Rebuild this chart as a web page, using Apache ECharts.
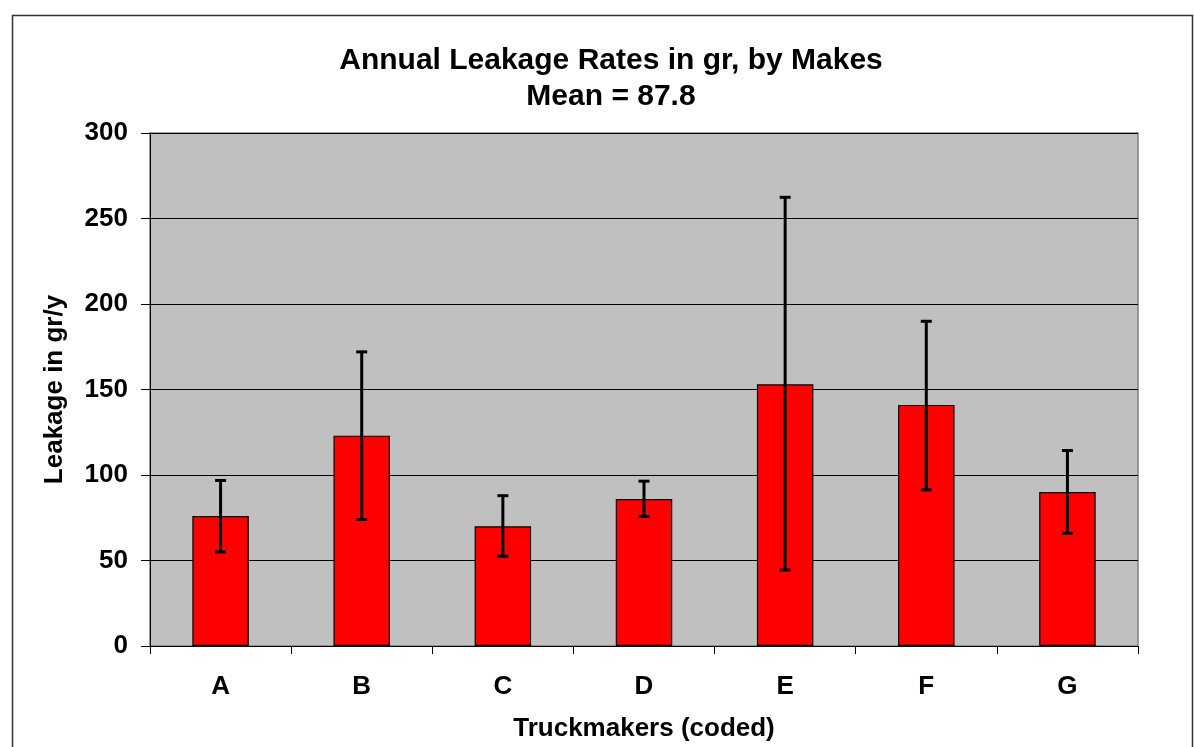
<!DOCTYPE html>
<html>
<head>
<meta charset="utf-8">
<script src="https://cdn.jsdelivr.net/npm/echarts@6/dist/echarts.min.js"></script>
<style>
html,body{margin:0;padding:0;background:#fff;}
#main{width:1194px;height:747px;}
</style>
</head>
<body>
<div id="main"></div>
<script>
const categories = ['A','B','C','D','E','F','G'];
const meanValues = [76, 123, 70, 86, 153, 141, 90];
const errorLow = [55, 74, 52.5, 75.8, 44.4, 91.3, 65.9];
const errorHigh = [96.8, 172, 87.9, 96.4, 262.4, 189.9, 114.3];
const yTicks = [0, 50, 100, 150, 200, 250, 300];

const errData = categories.map((c, i) => [i, errorLow[i], errorHigh[i]]);
const FONT = 'Liberation Sans, Arial, sans-serif';

const chart = echarts.init(document.getElementById('main'));
chart.setOption({
  backgroundColor: '#fff',
  animation: false,
  graphic: [{
    type: 'rect',
    shape: {x: 12.5, y: 15.5, width: 1180, height: 760},
    style: {fill: 'none', stroke: '#333', lineWidth: 1.5},
    silent: true
  }, {
    type: 'text',
    x: 611, y: 43,
    style: {
      text: 'Annual Leakage Rates in gr, by Makes\nMean = 87.8',
      font: 'bold 30px ' + FONT, fill: '#000', textAlign: 'center', textVerticalAlign: 'top', lineHeight: 36
    },
    silent: true
  }],
  grid: {
    left: 150, right: 56, top: 133, bottom: 101,
    show: true, backgroundColor: '#c0c0c0', borderColor: '#808080', borderWidth: 1.5
  },
  xAxis: {
    type: 'category', data: categories,
    name: 'Truckmakers (coded)', nameLocation: 'middle', nameGap: 70,
    nameTextStyle: {fontFamily: FONT, fontWeight: 'bold', fontSize: 26, color: '#000'},
    axisLine: {lineStyle: {color: '#000', width: 1}},
    axisTick: {show: true, length: 8, lineStyle: {color: '#000'}},
    axisLabel: {fontFamily: FONT, fontWeight: 'bold', fontSize: 26, color: '#000', margin: 28}
  },
  yAxis: {
    type: 'value', min: 0, max: 300, interval: 50,
    name: 'Leakage in gr/y', nameLocation: 'middle', nameGap: 82, nameRotate: 90,
    nameTextStyle: {fontFamily: FONT, fontWeight: 'bold', fontSize: 26, color: '#000'},
    axisLine: {show: true, lineStyle: {color: '#000', width: 1}},
    axisTick: {show: true, length: 9, lineStyle: {color: '#000'}},
    axisLabel: {fontFamily: FONT, fontWeight: 'bold', fontSize: 26, color: '#000', margin: 22,
      formatter: v => yTicks.includes(v) ? String(v) : ''},
    splitLine: {show: true, lineStyle: {color: '#000', width: 1}}
  },
  series: [{
    type: 'bar', data: meanValues, barWidth: '40%',
    itemStyle: {color: '#ff0000', borderColor: '#000', borderWidth: 1.2}
  }, {
    type: 'custom', data: errData, z: 10,
    renderItem: function (params, api) {
      const x = api.value(0);
      const lo = api.coord([x, api.value(1)]);
      const hi = api.coord([x, api.value(2)]);
      const hw = 5.5;
      const st = {stroke: '#000', lineWidth: 3};
      return {type: 'group', children: [
        {type: 'line', shape: {x1: lo[0], y1: lo[1], x2: hi[0], y2: hi[1]}, style: st},
        {type: 'line', shape: {x1: lo[0]-hw, y1: lo[1], x2: lo[0]+hw, y2: lo[1]}, style: st},
        {type: 'line', shape: {x1: hi[0]-hw, y1: hi[1], x2: hi[0]+hw, y2: hi[1]}, style: st}
      ]};
    }
  }]
});
</script>
</body>
</html>
